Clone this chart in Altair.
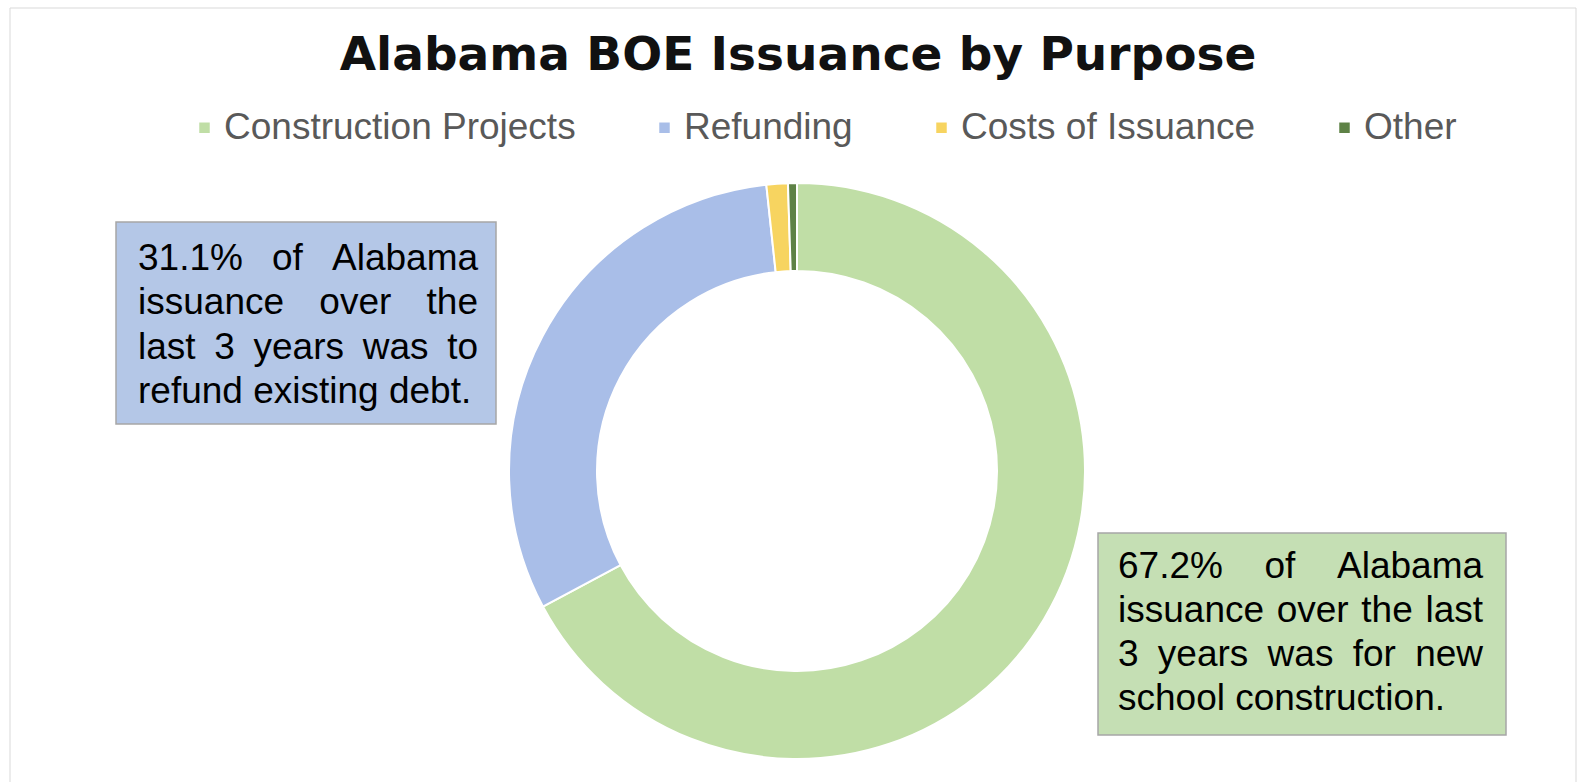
import altair as alt
import pandas as pd

# ---------------- data ----------------
categories = ["Construction Projects", "Refunding", "Costs of Issuance", "Other"]
shares = [67.2, 31.1, 1.2, 0.5]
slice_colors = ["#c0dea6", "#a9bee8", "#f7d460", "#5e8246"]
title_text = "Alabama BOE Issuance by Purpose"
left_note = ["31.1% of Alabama", "issuance over the", "last 3 years was to", "refund existing debt."]
right_note = ["67.2% of Alabama", "issuance over the last", "3 years was for new", "school construction."]

W, H = 1585, 782
CX, CY = 797, 471
R_OUT, R_IN = 288, 200
NOTE_SIZE = 37

# Arial / Liberation Sans advance widths (per 1000 em) for justification
ARIAL = {" ": 278, "%": 889, ".": 278, "A": 667, "a": 556, "b": 556, "c": 500, "d": 556,
         "e": 556, "f": 278, "g": 556, "h": 556, "i": 222, "j": 222, "k": 500, "l": 222,
         "m": 833, "n": 556, "o": 556, "p": 556, "q": 556, "r": 333, "s": 500, "t": 278,
         "u": 556, "v": 500, "w": 722, "x": 500, "y": 500, "z": 500}
for d in "0123456789":
    ARIAL[d] = 556


def text_width(s, size):
    return sum(ARIAL.get(ch, 556) for ch in s) * size / 1000.0


def justify(lines, x0, x1, y0, dy, size):
    rows = []
    for i, line in enumerate(lines):
        words = line.split(" ")
        y = y0 + i * dy
        x = x0
        if i == len(lines) - 1 or len(words) == 1:
            for w in words:
                rows.append({"word": w, "x": x, "y": y})
                x += text_width(w + " ", size)
        else:
            total = sum(text_width(w, size) for w in words)
            gap = (x1 - x0 - total) / (len(words) - 1)
            for w in words:
                rows.append({"word": w, "x": x, "y": y})
                x += text_width(w, size) + gap
    return pd.DataFrame(rows)


df = pd.DataFrame({"purpose": categories, "share": shares, "idx": list(range(len(categories)))})
one = pd.DataFrame({"k": [0]})

frame = alt.Chart(one).mark_rect(fill="white", stroke="#d9d9d9", strokeWidth=1).encode(
    x=alt.value(10), x2=alt.value(1576), y=alt.value(8), y2=alt.value(800)
)

donut = alt.Chart(df).mark_arc(radius=R_OUT, radius2=R_IN, stroke="white", strokeWidth=2).encode(
    theta=alt.Theta("share:Q", stack=True),
    order=alt.Order("idx:Q"),
    color=alt.Color(
        "purpose:N",
        sort=categories,
        scale=alt.Scale(domain=categories, range=slice_colors),
        legend=alt.Legend(
            orient="none", legendX=186, legendY=109, direction="horizontal", title=None,
            symbolType="square", symbolSize=110, symbolStrokeWidth=0,
            labelFontSize=37, labelFont="Liberation Sans", labelColor="#595959",
            labelOffset=1, columnPadding=70, labelLimit=0,
        ),
    ),
    x=alt.value(CX),
    y=alt.value(CY),
)

title = alt.Chart(one).mark_text(
    text=title_text, font="DejaVu Sans", fontWeight="bold", fontSize=47,
    color="#111111", align="center", baseline="alphabetic",
).encode(x=alt.value(798), y=alt.value(70))

left_box = alt.Chart(one).mark_rect(fill="#b4c7e7", stroke="#a6a6a6", strokeWidth=1.5).encode(
    x=alt.value(116), x2=alt.value(496), y=alt.value(222), y2=alt.value(424)
)
right_box = alt.Chart(one).mark_rect(fill="#c5dfb4", stroke="#a6a6a6", strokeWidth=1.5).encode(
    x=alt.value(1098), x2=alt.value(1506), y=alt.value(533), y2=alt.value(735)
)

left_words = justify(left_note, 138, 478, 270, 44.3, NOTE_SIZE)
right_words = justify(right_note, 1118, 1483, 578, 44.0, NOTE_SIZE)

def words_layer(d):
    return alt.Chart(d).mark_text(
        align="left", baseline="alphabetic", fontSize=NOTE_SIZE, font="Liberation Sans", color="#000000"
    ).encode(
        x=alt.X("x:Q", scale=None, axis=None),
        y=alt.Y("y:Q", scale=None, axis=None),
        text="word:N",
    )

chart = alt.layer(
    frame, donut, title, left_box, words_layer(left_words), right_box, words_layer(right_words)
).properties(
    width=W, height=H, padding=0, autosize=alt.AutoSizeParams(type="none"), background="white"
).configure_view(stroke=None)

chart.save("out.html", embed_options={"renderer": "svg", "actions": False})
